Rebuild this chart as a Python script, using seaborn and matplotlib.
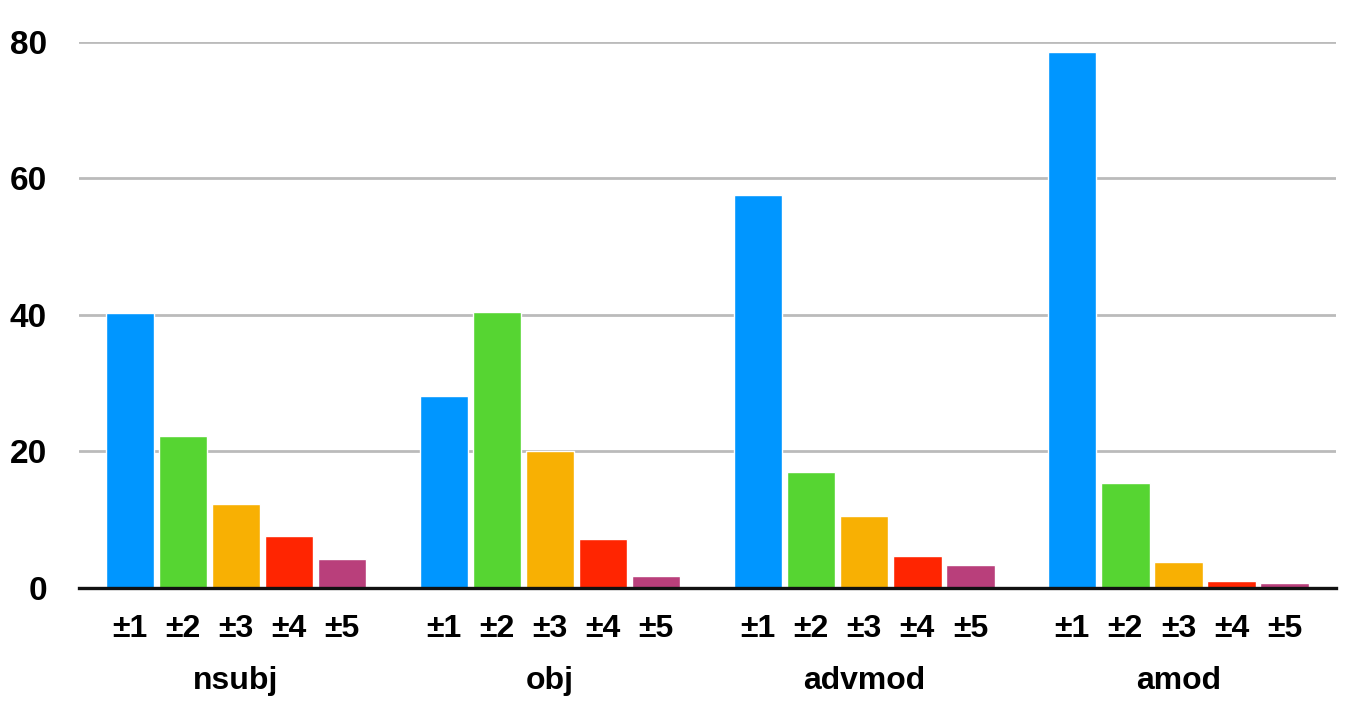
import pandas as pd
import matplotlib.pyplot as plt
import seaborn as sns

# values
relations = ['nsubj', 'obj', 'advmod', 'amod']
distances = ['±1', '±2', '±3', '±4', '±5']
nsubj = [40.3, 22.3, 12.3, 7.6, 4.2]
obj = [28.1, 40.4, 20.1, 7.2, 1.8]
advmod = [57.6, 17.0, 10.5, 4.7, 3.4]
amod = [78.5, 15.4, 3.8, 1.0, 0.7]
colors = ['#0096FF', '#56D532', '#F8B003', '#FF2501', '#B93F7B']

rows = []
for rel, vals in zip(relations, [nsubj, obj, advmod, amod]):
    for d, v in zip(distances, vals):
        rows.append({'relation': rel, 'distance': d, 'value': v})
df = pd.DataFrame(rows)

sns.set_style('white')
plt.rcParams['font.family'] = ['Liberation Sans', 'DejaVu Sans']
plt.rcParams['font.weight'] = 'bold'
plt.rcParams['text.color'] = 'black'
plt.rcParams['xtick.color'] = 'black'
plt.rcParams['ytick.color'] = 'black'

fig = plt.figure(figsize=(13.6, 7.1), dpi=100)
ax = fig.add_axes([0.058, 0.172, 0.924, 0.769])

sns.barplot(data=df, x='relation', y='value', hue='distance', order=relations,
            hue_order=distances, palette=colors, width=0.845, gap=0.09,
            saturation=1, legend=False, ax=ax)

ax.set_ylim(0, 80)
ax.set_xlim(-0.5, 3.5)
ax.set_yticks([0, 20, 40, 60, 80])
ax.yaxis.grid(True, color='#bbbbbb', linewidth=2.0)
ax.set_axisbelow(True)
for s in ['top', 'right', 'left']:
    ax.spines[s].set_visible(False)
ax.spines['bottom'].set_color('#111111')
ax.spines['bottom'].set_linewidth(2.4)
ax.spines['bottom'].set_zorder(5)
ax.tick_params(axis='y', length=0, pad=23, labelsize=24, labelcolor='black')
ax.set_xlabel('')
ax.set_ylabel('')
for t in ax.get_yticklabels():
    t.set_fontweight('bold')

# distance labels under each bar
bars = sorted(ax.patches, key=lambda p: p.get_x())
centers = [p.get_x() + p.get_width() / 2 for p in bars]
ax.set_xticks(centers)
ax.set_xticklabels(distances * len(relations), fontsize=23, fontweight='bold')
ax.tick_params(axis='x', length=0, pad=19, labelcolor='black')

# relation names below
sec = ax.secondary_xaxis('bottom')
sec.set_xticks(range(len(relations)))
sec.set_xticklabels(relations, fontsize=23, fontweight='bold')
sec.tick_params(length=0, pad=56, labelcolor='black')
sec.spines['bottom'].set_visible(False)

plt.savefig('out.png', dpi=100)
plt.close()
